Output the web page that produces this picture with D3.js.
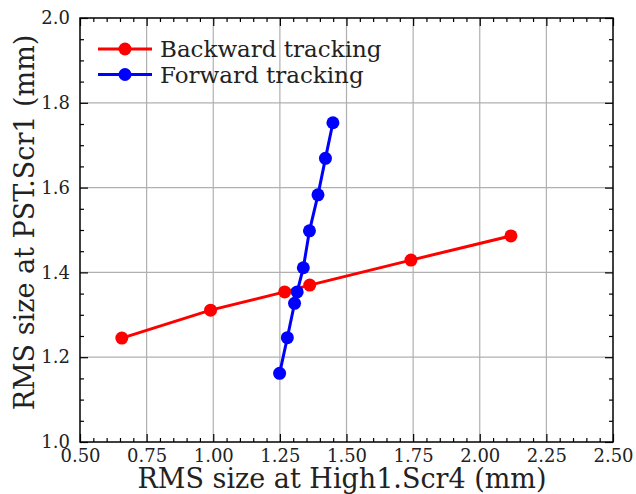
<!DOCTYPE html>
<html><head><meta charset="utf-8">
<script src="https://cdn.jsdelivr.net/npm/d3@7"></script>
<style>body{margin:0;background:#fff;} svg{display:block;}</style>
</head><body>
<svg id="c" width="636" height="494"></svg>
<script>
const backwardX = [0.657, 0.990, 1.268, 1.362, 1.742, 2.117];
const backwardY = [1.245, 1.311, 1.354, 1.370, 1.429, 1.486];
const forwardX = [1.249, 1.278, 1.305, 1.315, 1.338, 1.361, 1.393, 1.421, 1.449];
const forwardY = [1.162, 1.246, 1.327, 1.354, 1.411, 1.498, 1.583, 1.669, 1.753];
const xTicks = [0.50, 0.75, 1.00, 1.25, 1.50, 1.75, 2.00, 2.25, 2.50];
const yTicks = [1.0, 1.2, 1.4, 1.6, 1.8, 2.0];
const seriesNames = ["Backward tracking", "Forward tracking"];
const seriesColors = ["#ff0000", "#0000ff"];

const font = "'DejaVu Serif', serif";
const L = 80, R = 613, T = 18, B = 442;
const svg = d3.select("#c");
const x = d3.scaleLinear().domain([0.5, 2.5]).range([L, R]);
const y = d3.scaleLinear().domain([1.0, 2.0]).range([B, T]);
const W = R - L, H = B - T;
const xMinor = d3.range(0.5, 2.5001, 0.05).map(v => +v.toFixed(2)).filter(v => !xTicks.some(t => Math.abs(t - v) < 1e-6));
const yMinor = d3.range(1.0, 2.0001, 0.05).map(v => +v.toFixed(2)).filter(v => !yTicks.some(t => Math.abs(t - v) < 1e-6));

// grid
const grid = svg.append("g");
grid.selectAll("line.gx").data(xTicks.slice(1, -1)).join("line")
  .attr("x1", d => x(d)).attr("x2", d => x(d)).attr("y1", T).attr("y2", B)
  .attr("stroke", "#b0b0b0").attr("stroke-width", 1.2);
grid.selectAll("line.gy").data(yTicks.slice(1, -1)).join("line")
  .attr("y1", d => y(d)).attr("y2", d => y(d)).attr("x1", L).attr("x2", R)
  .attr("stroke", "#b0b0b0").attr("stroke-width", 1.2);

function styleAxis(g) {
  g.select(".domain").remove();
  g.selectAll(".tick line").attr("stroke", "#000").attr("stroke-width", 1.2);
  g.selectAll(".tick text").attr("font-family", font).attr("font-size", 18).attr("fill", "#222");
}
// bottom
svg.append("g").attr("transform", `translate(0,${B})`)
  .call(d3.axisBottom(x).tickValues(xTicks).tickSize(-8).tickPadding(7).tickFormat(d3.format(".2f")))
  .call(styleAxis);
svg.append("g").attr("transform", `translate(0,${B})`)
  .call(d3.axisBottom(x).tickValues(xMinor).tickSize(-4).tickFormat("")).call(styleAxis);
// top
svg.append("g").attr("transform", `translate(0,${T})`)
  .call(d3.axisTop(x).tickValues(xTicks).tickSize(-8).tickFormat("")).call(styleAxis);
svg.append("g").attr("transform", `translate(0,${T})`)
  .call(d3.axisTop(x).tickValues(xMinor).tickSize(-4).tickFormat("")).call(styleAxis);
// left
svg.append("g").attr("transform", `translate(${L},0)`)
  .call(d3.axisLeft(y).tickValues(yTicks).tickSize(-8).tickPadding(10).tickFormat(d3.format(".1f")))
  .call(styleAxis);
svg.append("g").attr("transform", `translate(${L},0)`)
  .call(d3.axisLeft(y).tickValues(yMinor).tickSize(-4).tickFormat("")).call(styleAxis);
// right
svg.append("g").attr("transform", `translate(${R},0)`)
  .call(d3.axisRight(y).tickValues(yTicks).tickSize(-8).tickFormat("")).call(styleAxis);
svg.append("g").attr("transform", `translate(${R},0)`)
  .call(d3.axisRight(y).tickValues(yMinor).tickSize(-4).tickFormat("")).call(styleAxis);

// frame
svg.append("rect").attr("x", L).attr("y", T).attr("width", W).attr("height", H)
  .attr("fill", "none").attr("stroke", "#000").attr("stroke-width", 1.5);

// series
const series = [
  {name: seriesNames[0], color: seriesColors[0], pts: backwardX.map((v, i) => [v, backwardY[i]])},
  {name: seriesNames[1], color: seriesColors[1], pts: forwardX.map((v, i) => [v, forwardY[i]])}
];
const line = d3.line().x(d => x(d[0])).y(d => y(d[1]));
series.forEach(s => {
  const g = svg.append("g");
  g.append("path").attr("d", line(s.pts)).attr("fill", "none")
    .attr("stroke", s.color).attr("stroke-width", 3);
  g.selectAll("circle").data(s.pts).join("circle")
    .attr("cx", d => x(d[0])).attr("cy", d => y(d[1])).attr("r", 6.5).attr("fill", s.color);
});

// legend
series.forEach((s, i) => {
  const ly = 49 + i * 25.5;
  svg.append("line").attr("x1", 98).attr("x2", 152).attr("y1", ly).attr("y2", ly)
    .attr("stroke", s.color).attr("stroke-width", 3);
  svg.append("circle").attr("cx", 125).attr("cy", ly).attr("r", 6.5).attr("fill", s.color);
  svg.append("text").attr("x", 160).attr("y", ly).attr("dy", "0.35em")
    .attr("font-family", font).attr("font-size", 23).attr("fill", "#222").text(s.name);
});

// axis titles
svg.append("text").attr("x", 342).attr("y", 488).attr("text-anchor", "middle")
  .attr("font-family", font).attr("font-size", 27).attr("fill", "#222").text("RMS size at High1.Scr4 (mm)");
svg.append("text").attr("transform", `translate(34,222.5) rotate(-90)`).attr("text-anchor", "middle")
  .attr("font-family", font).attr("font-size", 27).attr("fill", "#222").text("RMS size at PST.Scr1 (mm)");
</script>
</body></html>
